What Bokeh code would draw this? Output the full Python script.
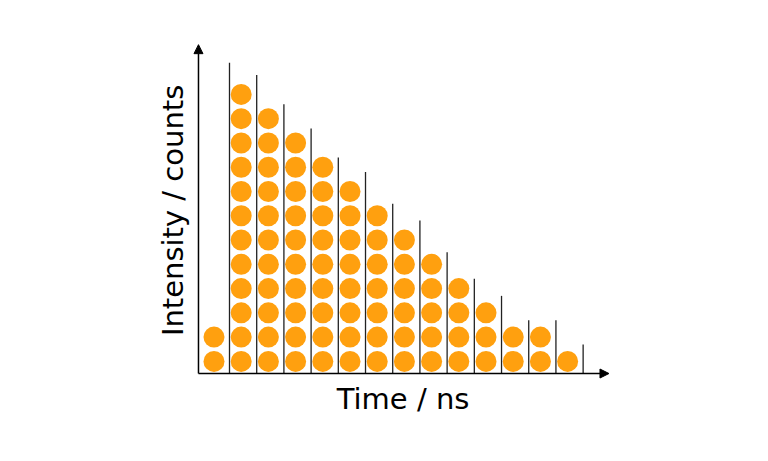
import math
from bokeh.plotting import figure
from bokeh.models import Arrow, NormalHead, Range1d
from bokeh.core.properties import value
from bokeh.embed import file_html
from bokeh.resources import INLINE

# ---- data ----
bins = list(range(1, 15))
counts = [2, 12, 11, 10, 9, 8, 7, 6, 5, 4, 3, 2, 2, 1]
# heights of the bin dividers (drawn just right of each bin)
divider_heights = [12.8, 12.3, 11.1, 10.1, 8.9, 8.3, 7.0, 6.3, 5.0, 3.9, 3.2, 2.2, 2.2, 1.2]
x_label = "Time / ns"
y_label = "Intensity / counts"

ORANGE = "#FFA00F"
FONT = "DejaVu Sans"

W, H = 752, 445
x0, x1 = -6.868, 20.776
y0, y1 = -2.966, 15.37

p = figure(width=W, height=H, output_backend="svg", toolbar_location=None,
           x_range=Range1d(x0, x1), y_range=Range1d(y0, y1),
           min_border=0, outline_line_color=None)
p.axis.visible = False
p.grid.visible = False
p.background_fill_color = "white"
p.border_fill_color = "white"

# dots
xs, ys = [], []
for b, c in zip(bins, counts):
    for k in range(c):
        xs.append(b - 0.02)
        ys.append(k + 0.5)
p.scatter(xs, ys, size=21, fill_color=ORANGE, line_color=None)

# dividers
divider_pos = [b + 0.55 for b in bins]
p.segment(x0=divider_pos, y0=[0] * len(divider_pos), x1=divider_pos, y1=divider_heights,
          line_color="#222222", line_width=1.3)

# axes with arrows
ax_x = 0.41
p.add_layout(Arrow(x_start=ax_x, y_start=0, x_end=15.5, y_end=0,
                   line_color="black", line_width=1.5,
                   end=NormalHead(size=9, fill_color="black", line_color="black")))
p.add_layout(Arrow(x_start=ax_x, y_start=0, x_end=ax_x, y_end=13.55,
                   line_color="black", line_width=1.5,
                   end=NormalHead(size=9, fill_color="black", line_color="black")))

# labels
p.text(x=[7.93], y=[-1.03], text=[x_label], text_font=value(FONT),
       text_font_size="29px", text_align="center", text_baseline="alphabetic", text_color="black")
p.text(x=[-0.54], y=[6.72], text=[y_label], text_font=value(FONT), angle=math.pi / 2,
       text_font_size="29px", text_align="center", text_baseline="alphabetic", text_color="black")

open("out.html", "w").write(file_html(p, INLINE))
